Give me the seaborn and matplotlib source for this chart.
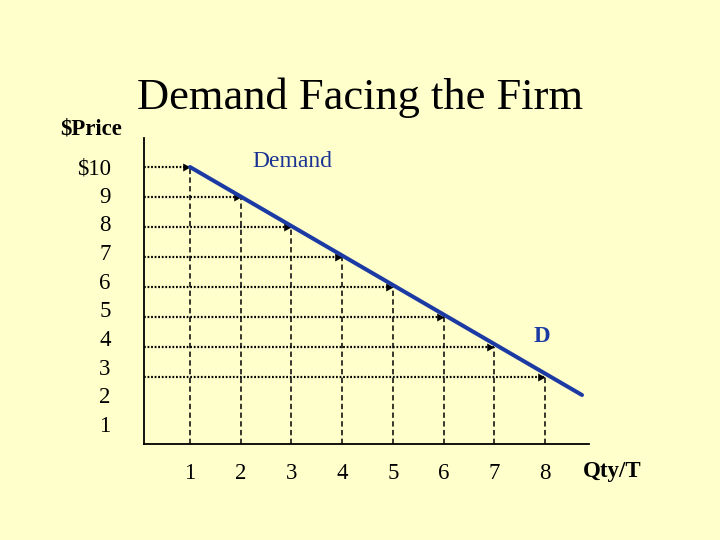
import matplotlib
matplotlib.use("Agg")
import matplotlib.pyplot as plt
import seaborn as sns
import pandas as pd
import numpy as np

# ---- data ----
quantities = [1, 2, 3, 4, 5, 6, 7, 8]
prices = [10, 9, 8, 7, 6, 5, 4, 3]
demand_line_qty = [1, 8.73]
demand_line_price = [10, 2.4]
price_tick_values = [10, 9, 8, 7, 6, 5, 4, 3, 2, 1]
price_tick_labels = ["$10", "9", "8", "7", "6", "5", "4", "3", "2", "1"]
qty_tick_labels = ["1", "2", "3", "4", "5", "6", "7", "8"]

BG = "#FFFFCC"
BLUE = "#1c3aa3"
SERIF = ["Liberation Serif", "DejaVu Serif"]

sns.set_theme(style="white")
plt.rcParams["font.family"] = SERIF

W, H = 720, 540
fig = plt.figure(figsize=(W / 100, H / 100), dpi=100)
fig.patch.set_facecolor(BG)

def fx(x):
    return x / W

def fy(y):
    return 1 - y / H

# axes box in pixels: left 144, right 589, top 138, bottom 444
ax = fig.add_axes([fx(144), fy(444), fx(589) - fx(144), fy(138) - fy(444)])
ax.set_facecolor("none")
ax.set_xlim(0.093, 8.868)
ax.set_ylim(0.767, 10.967)

# dotted guide lines from price axis to each point
x_left = ax.get_xlim()[0]
y_bottom = ax.get_ylim()[0]
ax.hlines(prices, xmin=x_left, xmax=quantities, colors="black",
          linestyles=[(0, (0.8, 0.8))], linewidth=1.6, zorder=2)
# dashed guide lines from each point down to quantity axis
ax.vlines(quantities, ymin=y_bottom, ymax=prices, colors="black",
          linestyles=[(0, (3.5, 2.2))], linewidth=1.1, zorder=2)

# arrow heads at each point (tip at the point)
arrow = [(0, 0), (-1, 0.55), (-1, -0.55), (0, 0)]
ax.plot(quantities, prices, ls="none", marker=arrow, markersize=10.5,
        color="black", markeredgewidth=0, zorder=3)

# demand line
df = pd.DataFrame({"qty": demand_line_qty, "price": demand_line_price})
sns.lineplot(data=df, x="qty", y="price", ax=ax, color=BLUE, linewidth=2.9,
             zorder=4, sort=False)

ax.set_xlabel("")
ax.set_ylabel("")
for s in ["top", "right"]:
    ax.spines[s].set_visible(False)
for s in ["left", "bottom"]:
    ax.spines[s].set_color("black")
    ax.spines[s].set_linewidth(1.3)

ax.set_xticks(quantities)
ax.set_xticklabels(qty_tick_labels)
ax.tick_params(axis="x", length=0, pad=13.5, labelsize=16.5, colors="black")
ax.set_yticks([])

# price labels (slightly tighter spacing than the guide lines, as in the slide)
ax2 = ax.twinx()
ax2.set_facecolor("none")
ax2.set_ylim(0.304, 10.977)
ax2.set_yticks(price_tick_values)
ax2.set_yticklabels(price_tick_labels)
ax2.yaxis.tick_left()
ax2.tick_params(axis="y", length=0, pad=24, labelsize=16.5, colors="black")
for s in ax2.spines.values():
    s.set_visible(False)

# texts
fig.text(fx(360), fy(109), "Demand Facing the Firm", ha="center",
         va="baseline", fontsize=32, color="black")
fig.text(fx(60), fy(134), "$Price", ha="left", va="baseline",
         fontsize=16.5, fontweight="bold", color="black")
fig.text(fx(583), fy(477), "Qty/T", ha="left", va="baseline",
         fontsize=16.5, fontweight="bold", color="black")
fig.text(fx(292), fy(167), "Demand", ha="center", va="baseline",
         fontsize=17, color="#1a3393")
fig.text(fx(542), fy(342), "D", ha="center", va="baseline",
         fontsize=16.5, fontweight="bold", color=BLUE)

fig.savefig("out.png", dpi=100, facecolor=BG)
